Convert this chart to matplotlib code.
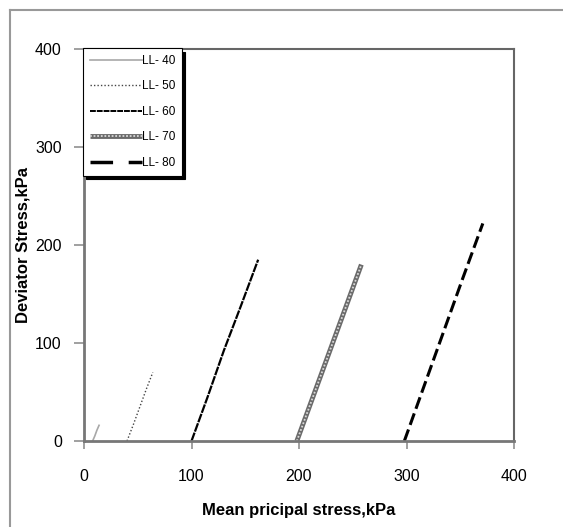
import numpy as np
import matplotlib.pyplot as plt
from matplotlib.lines import Line2D
from matplotlib.legend_handler import HandlerTuple

plt.rcParams['font.family'] = ['Liberation Sans', 'DejaVu Sans']

labels = ['LL- 40', 'LL- 50', 'LL- 60', 'LL- 70', 'LL- 80']
p_40 = [8, 10, 12, 14]
q_40 = [0, 5, 11, 16]
p_50 = [40, 46, 52, 58, 64]
q_50 = [0, 17, 35, 53, 70]
p_60 = [100, 115, 130, 146, 162]
q_60 = [0, 45, 92, 138, 185]
p_70 = [198, 213, 228, 243, 258]
q_70 = [0, 45, 90, 135, 180]
p_80 = [298, 316, 334, 352, 371]
q_80 = [0, 55, 110, 165, 222]

W, H = 563, 527
fig = plt.figure(figsize=(W/100, H/100), dpi=100)
ax = fig.add_axes([84/W, (H-441)/H, 430/W, 392/H])

ax.plot(p_40, q_40, color='#a8a8a8', lw=1.2)
ax.plot(p_50, q_50, color='#444444', lw=1, ls=(0, (1, 1.5)))
ax.plot(p_60, q_60, color='black', lw=1.6, ls=(0, (4, 0.5)))
ax.plot(p_70, q_70, color='#6a6a6a', lw=3.5, solid_capstyle='butt')
ax.plot(p_70, q_70, color='#d8d8d8', lw=1.3, ls=(0, (1, 1)))
ax.plot(p_80, q_80, color='black', lw=2.2, ls=(0, (4, 1.6)))

# legend handles (styles as in the original legend)
h40 = Line2D([], [], color='#a8a8a8', lw=1.2)
h50 = Line2D([], [], color='#444444', lw=1, ls=(0, (1, 1.5)))
h60 = Line2D([], [], color='black', lw=1.4, ls=(0, (3, 0.5)))
h70 = (Line2D([], [], color='#6a6a6a', lw=3.5, solid_capstyle='butt'),
       Line2D([], [], color='#d8d8d8', lw=1.3, ls=(0, (1, 1))))
h80 = Line2D([], [], color='black', lw=2.5, ls=(0, (6.5, 4.5)))

ax.set_xlim(0, 400)
ax.set_ylim(0, 400)
ax.set_xticks([0, 100, 200, 300, 400])
ax.set_yticks([0, 100, 200, 300, 400])
ax.tick_params(axis='x', labelsize=11.5, color='#909090', length=6, width=1.2, pad=14)
ax.tick_params(axis='y', labelsize=11.5, color='#909090', length=7, width=1.2, pad=9)
for s in ['left', 'bottom']:
    ax.spines[s].set_color('#777777')
    ax.spines[s].set_linewidth(2)
for s in ['top', 'right']:
    ax.spines[s].set_color('#666666')
    ax.spines[s].set_linewidth(1.5)

ax.set_xlabel('Mean pricipal stress,kPa', fontsize=12, fontweight='bold', labelpad=14)
ax.set_ylabel('Deviator Stress,kPa', fontsize=12, fontweight='bold', labelpad=3)

leg = ax.legend([h40, h50, h60, h70, h80], labels,
                handler_map={tuple: HandlerTuple(ndivide=1)},
                loc='upper left', bbox_to_anchor=(-0.002, 1.002), fontsize=8.5,
                fancybox=False, shadow={'color': 'black', 'alpha': 1, 'ox': 2, 'oy': -2.5},
                edgecolor='black', framealpha=1, handlelength=4.4,
                handletextpad=0.05, borderpad=0.55, labelspacing=1.15,
                borderaxespad=0)
leg.get_frame().set_linewidth(0.8)

# chart area frame (only left and top edges fall inside the image)
fig.add_artist(Line2D([10/W, 10/W], [0, 1 - 10/H], color='#999999', lw=1.5))
fig.add_artist(Line2D([10/W, 1], [1 - 10/H, 1 - 10/H], color='#999999', lw=1.5))
fig.savefig('out.png', dpi=100)
